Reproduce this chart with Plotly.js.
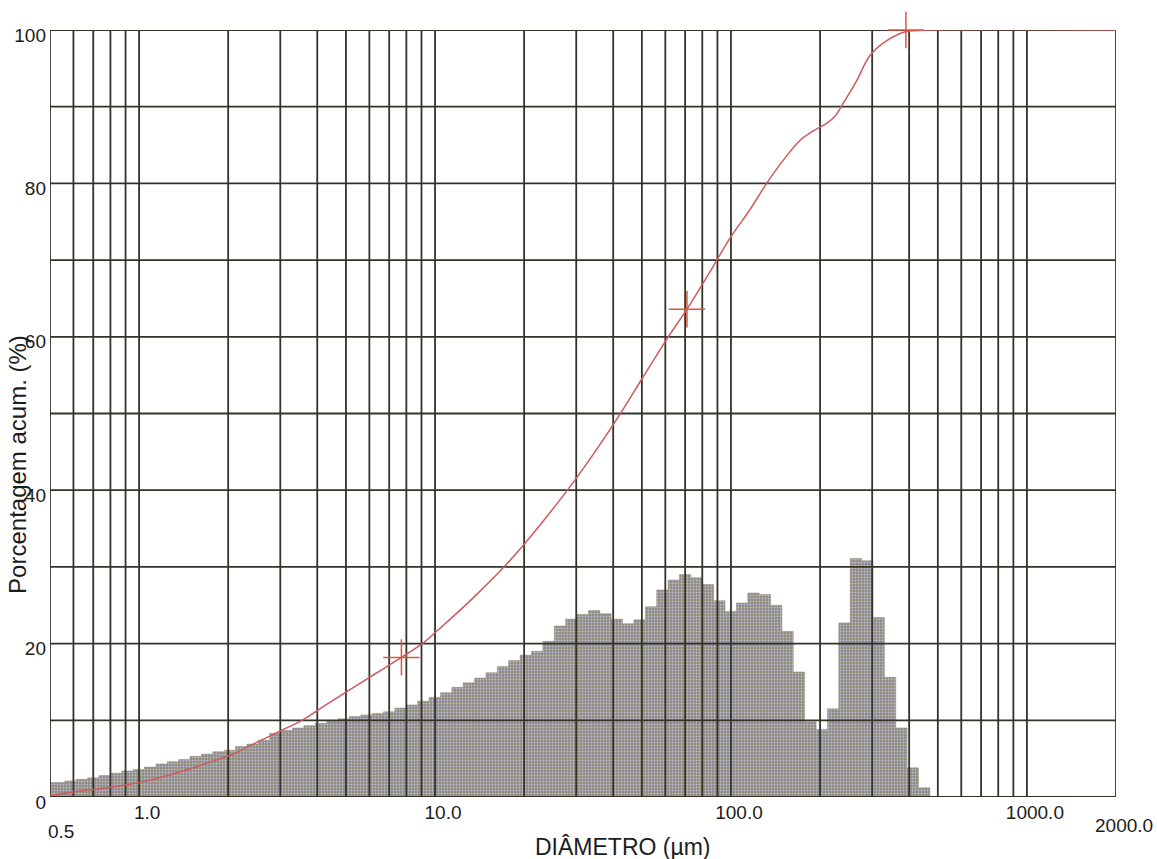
<!DOCTYPE html>
<html>
<head>
<meta charset="utf-8">
<script src="https://cdn.plot.ly/plotly-3.0.1.min.js"></script>
<style>
  html, body { margin: 0; padding: 0; background: #ffffff; }
  #chart { width: 1157px; height: 859px; }
</style>
</head>
<body>
<div id="chart"></div>
<script>
// Particle-size distribution: class frequencies (grey histogram) and cumulative percentage (red curve)

// Class boundaries (µm), log-spaced
const binEdges = [0.5, 0.5611, 0.6131, 0.6699, 0.7319, 0.7997, 0.8738, 0.9546, 1.043, 1.140,
  1.245, 1.360, 1.486, 1.624, 1.774, 1.939, 2.118, 2.314, 2.529, 2.763,
  3.019, 3.298, 3.604, 3.937, 4.302, 4.700, 5.135, 5.611, 6.131, 6.699,
  7.319, 7.997, 8.738, 9.546, 10.43, 11.40, 12.45, 13.60, 14.86, 16.24,
  17.74, 19.39, 21.18, 23.14, 25.29, 27.63, 30.19, 32.98, 36.04, 39.37,
  43.02, 47.00, 51.35, 56.11, 61.31, 66.99, 73.19, 79.97, 87.38, 95.46,
  104.3, 114.0, 124.5, 136.0, 148.6, 162.4, 177.4, 193.9, 211.8, 231.4,
  252.9, 276.3, 301.9, 329.8, 360.4, 393.7, 430.2, 470.0];

// Frequency of each class (one value per interval between boundaries)
const binHeights = [1.9, 2.1, 2.3, 2.5, 2.8, 3.1, 3.4, 3.6, 3.9, 4.3,
  4.6, 4.9, 5.3, 5.6, 5.9, 6.1, 6.6, 6.9, 7.4, 8.3,
  8.7, 9.0, 9.3, 9.6, 9.9, 10.2, 10.5, 10.7, 10.9, 11.1,
  11.6, 12.0, 12.5, 13.0, 13.6, 14.3, 14.9, 15.5, 16.2, 17.0,
  17.8, 18.5, 19.0, 20.3, 22.3, 23.2, 23.8, 24.3, 23.9, 23.2,
  22.6, 23.1, 24.8, 27.0, 28.3, 29.0, 28.6, 27.7, 25.6, 24.2,
  25.3, 26.6, 26.4, 25.0, 21.6, 16.3, 9.8, 8.8, 11.5, 22.7,
  31.1, 30.8, 23.4, 15.6, 9.0, 3.8, 1.2];

// Cumulative passing curve
const cumDiameter = [0.5, 0.54, 0.64, 0.78, 1.06, 1.3, 1.69, 2.08, 2.4, 3.0,
  3.55, 4.2, 5.16, 6.3, 7.7, 9.2, 10.4, 13.4, 17.5, 23,
  30.2, 41.2, 50, 60.7, 71, 85, 99, 116, 132, 150,
  171, 185, 197, 210, 225, 240, 266, 294, 336, 390, 470, 2000];
const cumPercent = [0.2, 0.4, 0.8, 1.2, 2.1, 3.0, 4.4, 5.6, 6.8, 8.6,
  10.0, 11.8, 14.0, 16.1, 18.2, 20.2, 22.0, 25.9, 30.4, 35.8,
  41.7, 49.3, 54.5, 59.7, 63.6, 68.5, 72.8, 76.6, 80.0, 83.0,
  85.6, 86.6, 87.2, 87.8, 88.8, 90.5, 93.4, 96.6, 98.6, 99.8, 100, 100];

// Marked points on the cumulative curve
const markDiameter = [7.7, 71, 390];
const markPercent = [18.2, 63.6, 100];

// Axis extent, grid and tick labels
const xMin = 0.5, xMax = 2000;
const gridDiameters = [0.5, 0.6, 0.7, 0.8, 0.9, 1, 2, 3, 4, 5, 6, 7, 8, 9,
  10, 20, 30, 40, 50, 60, 70, 80, 90, 100, 200, 300, 400, 500, 600, 700, 800, 900, 1000, 2000];
const gridPercents = [0, 10, 20, 30, 40, 50, 60, 70, 80, 90, 100];
const xTickVals = [1, 10, 100, 1000];
const xTickText = ['1.0', '10.0', '100.0', '1000.0'];
const xEndLabels = ['0.5', '2000.0'];
const yTickVals = [0, 20, 40, 60, 80, 100];

const FONT = 'Liberation Sans, Arial, Helvetica, sans-serif';
const INK = '#1c1c1c';
const GRID = '#33332a';

// Grid drawn as a trace so it stays visible over the histogram
const gx = [], gy = [];
gridDiameters.forEach(d => { gx.push(d, d, null); gy.push(0, 100, null); });
gridPercents.forEach(p => { gx.push(xMin, xMax, null); gy.push(p, p, null); });

const histogram = {
  type: 'scatter', mode: 'lines',
  x: binEdges, y: binHeights.concat([0]),
  line: { shape: 'hv', width: 0.5, color: '#8f8c78' },
  fill: 'tozeroy', fillcolor: '#8f8c78',
  fillpattern: { shape: '.', bgcolor: '#8f8c78', fgcolor: '#bcbce4', size: 3, solidity: 0.3 },
  hoverinfo: 'skip'
};

const grid = {
  type: 'scatter', mode: 'lines', x: gx, y: gy,
  line: { color: GRID, width: 1.8 },
  connectgaps: false, cliponaxis: false, hoverinfo: 'skip'
};

const curve = {
  type: 'scatter', mode: 'lines', x: cumDiameter, y: cumPercent,
  line: { color: '#cf5a5f', width: 1.5, shape: 'spline', smoothing: 0.8 },
  hoverinfo: 'skip'
};

const marks = {
  type: 'scatter', mode: 'markers', x: markDiameter, y: markPercent,
  marker: { symbol: 'cross-thin', size: 26, color: '#e0553a', line: { color: '#e0553a', width: 1.5 } },
  cliponaxis: false, hoverinfo: 'skip'
};

const layout = {
  width: 1157, height: 859,
  margin: { l: 50, r: 41, t: 30, b: 62 },
  paper_bgcolor: '#ffffff', plot_bgcolor: '#ffffff',
  showlegend: false,
  font: { family: FONT, color: INK },
  xaxis: {
    type: 'log', range: [Math.log10(xMin), Math.log10(xMax)],
    showgrid: false, zeroline: false, showline: false, ticks: '',
    tickmode: 'array', tickvals: xTickVals, ticktext: xTickText,
    tickfont: { size: 19, color: INK, family: FONT },
    ticklabelshift: 8, ticklabelstandoff: 2, fixedrange: true
  },
  yaxis: {
    range: [0, 100], showgrid: false, zeroline: false, showline: false, ticks: '',
    tickmode: 'array', tickvals: yTickVals,
    tickfont: { size: 19, color: INK, family: FONT },
    ticklabelshift: 5, ticklabelstandoff: 3, fixedrange: true
  },
  annotations: [
    { text: xEndLabels[0], xref: 'x', x: Math.log10(xMin), yref: 'paper', y: 0,
      xanchor: 'center', yanchor: 'middle', xshift: 11, yshift: -34, showarrow: false,
      font: { size: 19, color: INK, family: FONT } },
    { text: xEndLabels[1], xref: 'x', x: Math.log10(xMax), yref: 'paper', y: 0,
      xanchor: 'center', yanchor: 'middle', xshift: 8, yshift: -28, showarrow: false,
      font: { size: 19, color: INK, family: FONT } },
    { text: 'DIÂMETRO (µm)', xref: 'paper', x: 0.5375, yref: 'paper', y: 0,
      xanchor: 'center', yanchor: 'middle', yshift: -50, showarrow: false,
      font: { size: 23, color: INK, family: FONT } },
    { text: 'Porcentagem acum. (%)', xref: 'paper', x: -0.030, yref: 'paper', y: 0.433,
      xanchor: 'center', yanchor: 'middle', textangle: -90, showarrow: false,
      font: { size: 24, color: INK, family: FONT } }
  ]
};

Plotly.newPlot('chart', [histogram, grid, curve, marks], layout, { displayModeBar: false, staticPlot: true });
</script>
</body>
</html>
